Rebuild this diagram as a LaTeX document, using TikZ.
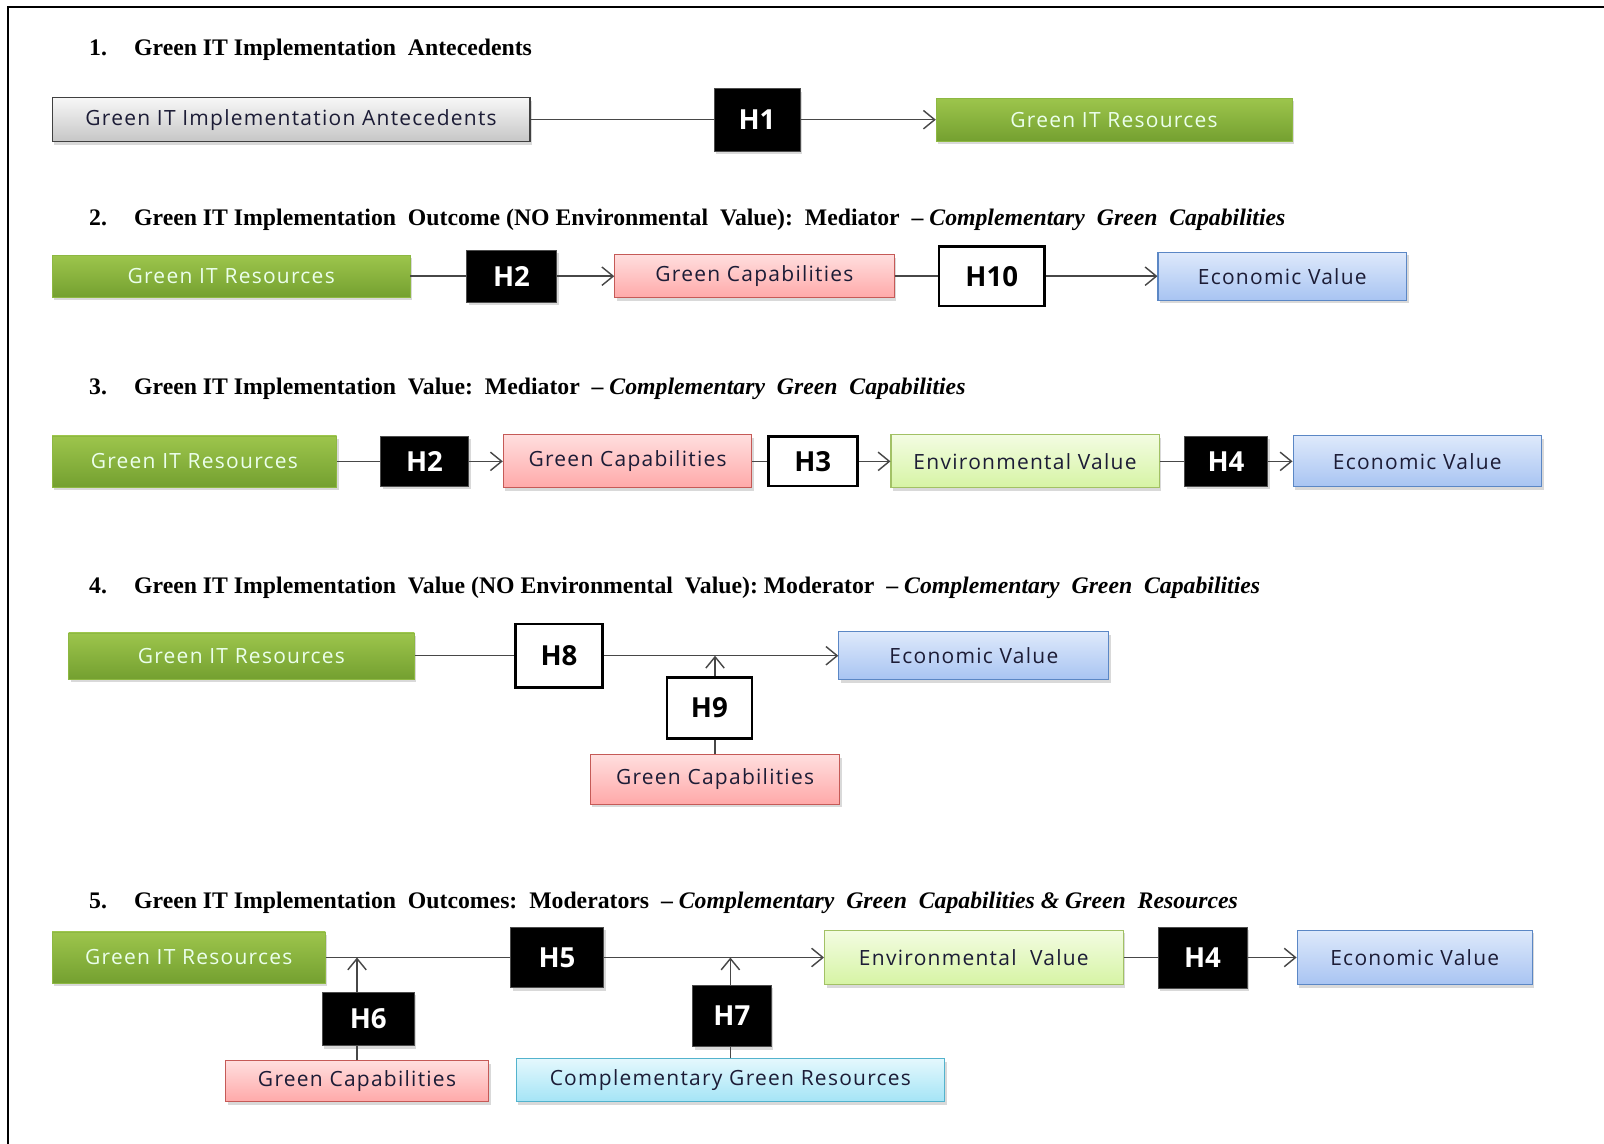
\documentclass[tikz,border=0pt]{standalone}
\usepackage{fontspec}
\setmainfont{Liberation Serif}
\newfontfamily\boxfont[LetterSpace=6]{Open Sans}
\newfontfamily\hypfont{Open Sans}
\usetikzlibrary{arrows.meta, shadows, shadings}

% box colours
\definecolor{resTop}{HTML}{9DC54C}
\definecolor{resBot}{HTML}{74A030}
\definecolor{resLine}{HTML}{8DB842}
\definecolor{antTop}{HTML}{F7F7F7}
\definecolor{antBot}{HTML}{C6C6C6}
\definecolor{capTop}{HTML}{FFDEDE}
\definecolor{capBot}{HTML}{FFA9A9}
\definecolor{capLine}{HTML}{C55A57}
\definecolor{ecoTop}{HTML}{DEE9FB}
\definecolor{ecoBot}{HTML}{A8C4F2}
\definecolor{ecoLine}{HTML}{5B87C5}
\definecolor{envTop}{HTML}{F3FCE2}
\definecolor{envBot}{HTML}{D6F4A4}
\definecolor{envLine}{HTML}{A2C165}
\definecolor{cmpTop}{HTML}{E4F8FD}
\definecolor{cmpBot}{HTML}{A4E4F6}
\definecolor{cmpLine}{HTML}{53B3CD}
\definecolor{boxText}{HTML}{1C1C36}

\tikzset{
  box/.style={draw, inner sep=0pt, text=boxText,
    font=\boxfont\fontsize{20.5}{20.5}\selectfont,
    drop shadow={opacity=0.3, shadow xshift=2pt, shadow yshift=-3pt}},
  antebox/.style={box, top color=antTop, bottom color=antBot, draw=black!75, line width=1.2pt},
  resbox/.style={box, top color=resTop, bottom color=resBot, draw=resLine, text=white!92!green},
  capbox/.style={box, top color=capTop, bottom color=capBot, draw=capLine, line width=1pt},
  ecobox/.style={box, top color=ecoTop, bottom color=ecoBot, draw=ecoLine, line width=1pt},
  envbox/.style={box, top color=envTop, bottom color=envBot, draw=envLine, line width=1pt},
  cmpbox/.style={box, top color=cmpTop, bottom color=cmpBot, draw=cmpLine, line width=1pt},
  hypblack/.style={box, fill=black, draw=black!70, text=white,
    font=\hypfont\bfseries\fontsize{27}{27}\selectfont},
  hypwhite/.style={draw=black, fill=white, line width=2.6pt, inner sep=0pt, text=black,
    font=\hypfont\bfseries\fontsize{27}{27}\selectfont},
  sectitle/.style={anchor=base west, inner sep=0pt, font=\bfseries\fontsize{23.2}{23.2}\selectfont},
  link/.style={line width=1.4pt, draw=black!72},
  arr/.style={link, -{Straight Barb[length=11pt, width=18pt]}}
}

\begin{document}
\begin{tikzpicture}[x=1pt, y=-1pt]
    \def\rowa{117}; % row 1 line y coordinate
    \def\rowb{270}; % row 2 line y coordinate
    \def\rowc{451}; % row 3 line y coordinate
    \def\rowd{641}; % row 4 line y coordinate
    \def\rowe{936}; % row 5 line y coordinate

    \useasboundingbox (0,0) rectangle (1568,1118);
    % frame %%%%%%%%%%%%%%%%%%%%%%%%%%%%%%%%%%%%%%%%%%%%%%%%%%%%%%%%%%%%%%%%%%%%%%%%%%%%%%%%%%%%%
    \draw[line width=2.4pt] (8,1118) -- (8,7) -- (1568,7);

    % titles %%%%%%%%%%%%%%%%%%%%%%%%%%%%%%%%%%%%%%%%%%%%%%%%%%%%%%%%%%%%%%%%%%%%%%%%%%%%%%%%%%%%
    \node[sectitle] (n1) at (87,54) {1.};
    \node[sectitle] (t1) at (131,54) {Green IT Implementation~~Antecedents};
    \node[sectitle] (n2) at (87,220) {2.};
    \node[sectitle] (t2) at (131,220) {Green IT Implementation~~Outcome (NO Environmental~~Value):~~Mediator~~--~\textit{Complementary~~Green~~Capabilities}};
    \node[sectitle] (n3) at (87,386) {3.};
    \node[sectitle] (t3) at (131,386) {Green IT Implementation~~Value:~~Mediator~~--~\textit{Complementary~~Green~~Capabilities}};
    \node[sectitle] (n4) at (87,580) {4.};
    \node[sectitle] (t4) at (131,580) {Green IT Implementation~~Value (NO Environmental~~Value):~Moderator~~--~\textit{Complementary~~Green~~Capabilities}};
    \node[sectitle] (n5) at (87,888) {5.};
    \node[sectitle] (t5) at (131,888) {Green IT Implementation~~Outcomes:~~Moderators~~--~\textit{Complementary~~Green~~Capabilities \& Green~~Resources}};

    % 1. antecedents %%%%%%%%%%%%%%%%%%%%%%%%%%%%%%%%%%%%%%%%%%%%%%%%%%%%%%%%%%%%%%%%%%%%%%%%%%%%
    \node[antebox, minimum width=467, minimum height=43] (ante) at (284.5,\rowa) {Green IT Implementation Antecedents};
    \node[hypblack, minimum width=84, minimum height=61] (h1) at (740,\rowa) {H1};
    \node[resbox, minimum width=348, minimum height=42] (res1) at (1089,\rowa) {Green IT Resources};
    \draw[link] (ante) -- (h1);
    \draw[arr] (h1) -- (res1);

    % 2. outcome, no environmental value %%%%%%%%%%%%%%%%%%%%%%%%%%%%%%%%%%%%%%%%%%%%%%%%%%%%%%%%
    \node[resbox, minimum width=350, minimum height=41] (res2) at (226,\rowb) {Green IT Resources};
    \node[hypblack, minimum width=88, minimum height=51] (h2a) at (500,\rowb) {H2};
    \node[capbox, minimum width=273, minimum height=42] (cap2) at (737.5,\rowb) {Green Capabilities};
    \node[hypwhite, minimum width=103, minimum height=58] (h10) at (969.5,\rowb) {H10};
    \node[ecobox, minimum width=243, minimum height=47] (eco2) at (1253.5,\rowb) {Economic Value};
    \draw[link] (res2) -- (h2a);
    \draw[arr] (h2a) -- (cap2);
    \draw[link] (cap2) -- (h10);
    \draw[arr] (h10) -- (eco2);

    % 3. value, mediator %%%%%%%%%%%%%%%%%%%%%%%%%%%%%%%%%%%%%%%%%%%%%%%%%%%%%%%%%%%%%%%%%%%%%%%%
    \node[resbox, minimum width=278, minimum height=50] (res3) at (190,\rowc) {Green IT Resources};
    \node[hypblack, minimum width=86, minimum height=49] (h2b) at (415,\rowc) {H2};
    \node[capbox, minimum width=243, minimum height=52] (cap3) at (613.5,\rowc) {Green Capabilities};
    \node[hypwhite, minimum width=87, minimum height=48] (h3) at (794.5,\rowc) {H3};
    \node[envbox, minimum width=262, minimum height=52] (env3) at (1002,\rowc) {Environmental Value};
    \node[hypblack, minimum width=81, minimum height=49] (h4a) at (1198.5,\rowc) {H4};
    \node[ecobox, minimum width=243, minimum height=50] (eco3) at (1385.5,\rowc) {Economic Value};
    \draw[link] (res3) -- (h2b);
    \draw[arr] (h2b) -- (cap3);
    \draw[link] (cap3) -- (h3);
    \draw[arr] (h3) -- (env3);
    \draw[link] (env3) -- (h4a);
    \draw[arr] (h4a) -- (eco3);

    % 4. value, moderator %%%%%%%%%%%%%%%%%%%%%%%%%%%%%%%%%%%%%%%%%%%%%%%%%%%%%%%%%%%%%%%%%%%%%%%
    \node[resbox, minimum width=338, minimum height=45] (res4) at (236,\rowd) {Green IT Resources};
    \node[hypwhite, minimum width=85, minimum height=62] (h8) at (546.5,\rowd) {H8};
    \node[ecobox, minimum width=264, minimum height=47] (eco4) at (952,\rowd) {Economic Value};
    \node[hypwhite, minimum width=83, minimum height=60] (h9) at (693.5,692) {H9};
    \node[capbox, minimum width=244, minimum height=48] (cap4) at (699,762) {Green Capabilities};
    \coordinate (m4) at (699,\rowd);
    \draw[link] (res4) -- (h8);
    \draw[arr] (h8) -- (eco4);
    \draw[link] (cap4.north) -- (cap4.north |- h9.south);
    \draw[arr] (cap4.north |- h9.north) -- (m4);

    % 5. outcomes, moderators %%%%%%%%%%%%%%%%%%%%%%%%%%%%%%%%%%%%%%%%%%%%%%%%%%%%%%%%%%%%%%%%%%%
    \node[resbox, minimum width=267, minimum height=50] (res5) at (184.5,\rowe) {Green IT Resources};
    \node[hypblack, minimum width=91, minimum height=59] (h5) at (544.5,\rowe) {H5};
    \node[envbox, minimum width=292, minimum height=53] (env5) at (952,\rowe) {Environmental~~Value};
    \node[hypblack, minimum width=87, minimum height=60] (h4b) at (1175.5,\rowe) {H4};
    \node[ecobox, minimum width=230, minimum height=53] (eco5) at (1383,\rowe) {Economic Value};
    \node[hypblack, minimum width=90, minimum height=52] (h6) at (360,996) {H6};
    \node[capbox, minimum width=257, minimum height=40] (cap5) at (349,1057) {Green Capabilities};
    \node[hypblack, minimum width=77, minimum height=60] (h7) at (715.5,993) {H7};
    \node[cmpbox, minimum width=419, minimum height=42] (cmp5) at (714,1056) {Complementary Green Resources};
    \coordinate (m5a) at (349,\rowe);
    \coordinate (m5b) at (714,\rowe);
    \draw[link] (res5) -- (h5);
    \draw[arr] (h5) -- (env5);
    \draw[link] (env5) -- (h4b);
    \draw[arr] (h4b) -- (eco5);
    \draw[link] (cap5.north) -- (cap5.north |- h6.south);
    \draw[arr] (cap5.north |- h6.north) -- (m5a);
    \draw[link] (cmp5.north) -- (cmp5.north |- h7.south);
    \draw[arr] (cmp5.north |- h7.north) -- (m5b);
\end{tikzpicture}
\end{document}
